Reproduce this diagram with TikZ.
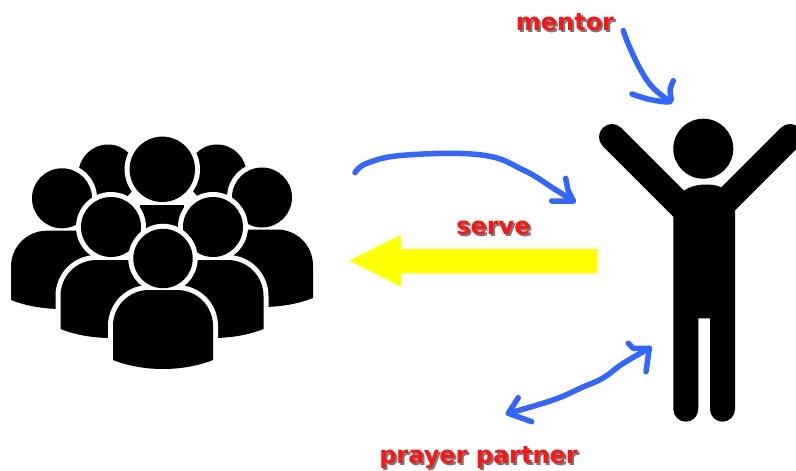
\documentclass[tikz,border=0pt]{standalone}
\usepackage{fontspec}
\setmainfont{DejaVu Sans}
\definecolor{penblue}{HTML}{3366FF}
\definecolor{labelred}{HTML}{FF1414}
\definecolor{pureyellow}{RGB}{255,255,0}
\definecolor{shadowgrey}{RGB}{120,120,120}
\tikzset{
  silhouette/.style={fill=black,draw=none},
  halo/.style={fill=white,draw=white,line width=10pt,line join=round},
  penline/.style={draw=penblue,line width=5.5pt,line cap=round,line join=round},
  limb/.style={draw=black,line width=26pt,line cap=round},
  labeltext/.style={font=\fontsize{24}{24}\selectfont\bfseries,text=labelred,anchor=base,inner sep=0pt},
  labelglow/.style={font=\fontsize{24}{24}\selectfont\bfseries,text=shadowgrey,anchor=base,inner sep=0pt},
  servearrow/.style={fill=pureyellow,draw=none}
}
% #1 centre x, #2 head y, #3 head radius, #4 body half width, #5 body top, #6 body bottom at its corners
\newcommand{\crowdshape}[7]{%
  \path[#7] (#1,#2) circle[radius=#3];
  \path[#7] (#1-#4,#6) -- (#1-#4,#5+36) .. controls (#1-#4,#5+16) and (#1-#4+16,#5) .. (#1-#4+36,#5)
     -- (#1+#4-36,#5) .. controls (#1+#4-16,#5) and (#1+#4,#5+16) .. (#1+#4,#5+36)
     -- (#1+#4,#6) .. controls (#1+#4-30,#6+12) and (#1-#4+30,#6+12) .. (#1-#4,#6) -- cycle;
}
\newcommand{\crowdperson}[6]{%
  \crowdshape{#1}{#2}{#3}{#4}{#5}{#6}{halo}%
  \crowdshape{#1}{#2}{#3}{#4}{#5}{#6}{silhouette}%
}
\newcommand{\shadowlabel}[3]{%
  \node[labelglow] at ([xshift=2pt,yshift=-2pt]#1) {#3};
  \node[labeltext] (#2) at (#1) {#3};
}
\begin{document}
\begin{tikzpicture}[x=1pt,y=-1pt]
\useasboundingbox (0,0) rectangle (796,471);
\fill[white] (0,0) rectangle (796,471);

% crowd, back to front
\path[silhouette] (108,174) circle[radius=29.5];
\path[silhouette] (217,174) circle[radius=29.5];
\path[halo] (162.3,169.3) circle[radius=32.7];
\path[silhouette] (162.3,169.3) circle[radius=32.7];
\path[silhouette] (140,205) rectangle (184,250);
\crowdperson{62}{198.3}{30}{51}{230.7}{300}
\crowdperson{262}{197.5}{30}{51}{229.5}{298}
\crowdperson{111}{227}{30}{50.5}{260}{329}
\crowdperson{213}{227}{30}{50.5}{260}{329}
\crowdperson{163}{258.5}{29.7}{50}{290}{360}

% standing figure
\path[silhouette] (703.3,148.7) circle[radius=30];
\draw[limb] (612,137) -- (690,215);
\draw[limb] (790,137) -- (716,211);
\path[silhouette] (673.3,205) -- (673.3,409.2) arc[start angle=180,end angle=0,radius=12.5]
  -- (698.3,318.3) -- (710,318.3) -- (710,409.2) arc[start angle=180,end angle=0,radius=12.5]
  -- (735,205) -- (721.7,187.5) .. controls (713,183) and (694,183) .. (684,190.7) -- cycle;

% yellow arrow
\path[servearrow] (597.7,249) -- (401,249) -- (401,235) -- (349.3,260.7) -- (401,286.7) -- (401,273.3) -- (597.7,273.3) -- cycle;

% labels
\coordinate (mentorPos) at (565,30.7);
\coordinate (servePos) at (493.5,234);
\coordinate (prayerPos) at (478.5,463);
\shadowlabel{mentorPos}{mentorLabel}{mentor}
\shadowlabel{servePos}{serveLabel}{serve}
\shadowlabel{prayerPos}{prayerLabel}{prayer partner}

% hand-drawn blue arrows
\coordinate (mentorFrom) at (623.3,30.7);
\coordinate (mentorTo) at (670,101.5);
\draw[penline] plot[smooth,tension=0.7] coordinates {(mentorFrom) (630,48) (641.7,71.7) (653.3,88) (mentorTo)};
\draw[penline] plot[smooth,tension=0.5] coordinates {(632,94) (650,99.5) (mentorTo) (670,90) (673.3,80.7)};

\coordinate (upperFrom) at (355,172.7);
\coordinate (upperTo) at (573.3,201);
\draw[penline] plot[smooth,tension=0.7] coordinates {(upperFrom) (368.3,162.7) (406.7,155) (481.7,155) (523.3,170) (553.3,188.3) (upperTo)};
\draw[penline] (551.7,201) -- (upperTo) -- (568,190) -- (565.7,178.3);

\coordinate (lowerLeft) at (508.3,413.3);
\coordinate (lowerRight) at (649.3,348.3);
\draw[penline] plot[smooth,tension=0.7] coordinates {(lowerLeft) (553,400) (583,387) (603,378) (623.3,363.3) (lowerRight)};
\draw[penline] (628.3,343.3) -- (633.3,348.3) -- (lowerRight) -- (646,371.7);
\draw[penline] (518.3,397.7) -- (lowerLeft) -- (531.7,421.7);
\end{tikzpicture}
\end{document}
